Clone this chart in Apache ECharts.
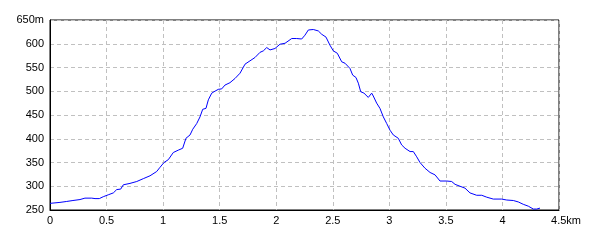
<!DOCTYPE html>
<html>
<head>
<meta charset="utf-8">
<script src="https://cdn.jsdelivr.net/npm/echarts@6/dist/echarts.min.js"></script>
<style>html,body{margin:0;padding:0;background:#fff;}#c{width:600px;height:240px;}</style>
</head>
<body>
<div id="c"></div>
<script>
const distanceKm = [0,0.088,0.148,0.203,0.265,0.309,0.369,0.398,0.436,0.471,0.515,0.560,0.590,0.625,0.648,0.707,0.767,0.825,0.884,0.943,0.973,1.008,1.046,1.090,1.134,1.173,1.202,1.238,1.262,1.297,1.326,1.350,1.379,1.400,1.430,1.450,1.488,1.518,1.547,1.591,1.636,1.680,1.724,1.768,1.812,1.857,1.886,1.916,1.945,1.989,2.033,2.078,2.137,2.181,2.225,2.254,2.284,2.328,2.372,2.402,2.440,2.475,2.505,2.540,2.579,2.608,2.652,2.676,2.705,2.726,2.747,2.776,2.814,2.844,2.858,2.888,2.917,2.947,2.977,3.006,3.035,3.079,3.109,3.139,3.183,3.212,3.242,3.271,3.315,3.360,3.404,3.448,3.507,3.551,3.581,3.625,3.669,3.713,3.772,3.817,3.861,3.919,3.993,4.038,4.096,4.140,4.184,4.229,4.273,4.303,4.332];
const elevationM = [264,266,268,270,272,275,275,274,274,278,282,286,293,294,303,306,310,316,322,331,340,350,356,371,376,380,401,408,420,432,446,462,464,482,496,499,504,505,513,518,527,538,557,564,571,582,585,592,587,590,599,601,611,611,610,618,629,630,627,620,614,597,585,580,562,559,548,534,529,517,499,496,487,496,490,475,464,446,432,418,408,401,387,380,373,373,362,350,338,329,324,311,311,310,304,300,296,286,281,281,277,273,273,271,270,267,262,258,252,252,254];
const xTicks = {min:0, max:4.5, step:0.5, unit:'km'};
const yTicks = {min:250, max:650, step:50, unit:'m'};

const points = distanceKm.map((d,i)=>[d, elevationM[i]]);
const font = 'Liberation Sans';
const chart = echarts.init(document.getElementById('c'), null, {renderer:'canvas'});
chart.setOption({
  animation:false,
  backgroundColor:'#fff',
  grid:{left:50, top:20, right:41, bottom:30, show:true, borderColor:'#000', borderWidth:1, backgroundColor:'transparent'},
  xAxis:{
    type:'value', min:xTicks.min, max:xTicks.max, interval:xTicks.step,
    axisLine:{show:true, lineStyle:{color:'#000', width:1}},
    axisTick:{show:false},
    axisLabel:{color:'#000', fontFamily:font, fontSize:11, margin:5,
      formatter:function(v){ return v===xTicks.max ? '{s|}'+v+xTicks.unit : String(v); },
      rich:{s:{width:14}}
    },
    splitLine:{show:true, lineStyle:{color:'#c0c0c0', type:[4,3], width:1}}
  },
  yAxis:{
    type:'value', min:yTicks.min, max:yTicks.max, interval:yTicks.step,
    axisLine:{show:true, lineStyle:{color:'#000', width:1}},
    axisTick:{show:false},
    axisLabel:{color:'#000', fontFamily:font, fontSize:11, margin:6,
      formatter:function(v){ return v===yTicks.max ? v+yTicks.unit : String(v); }
    },
    splitLine:{show:true, lineStyle:{color:'#c0c0c0', type:[4,3], width:1}}
  },
  series:[{
    type:'line', data:points, showSymbol:false, smooth:false,
    lineStyle:{color:'#0000ff', width:1}
  }]
});
</script>
</body>
</html>
